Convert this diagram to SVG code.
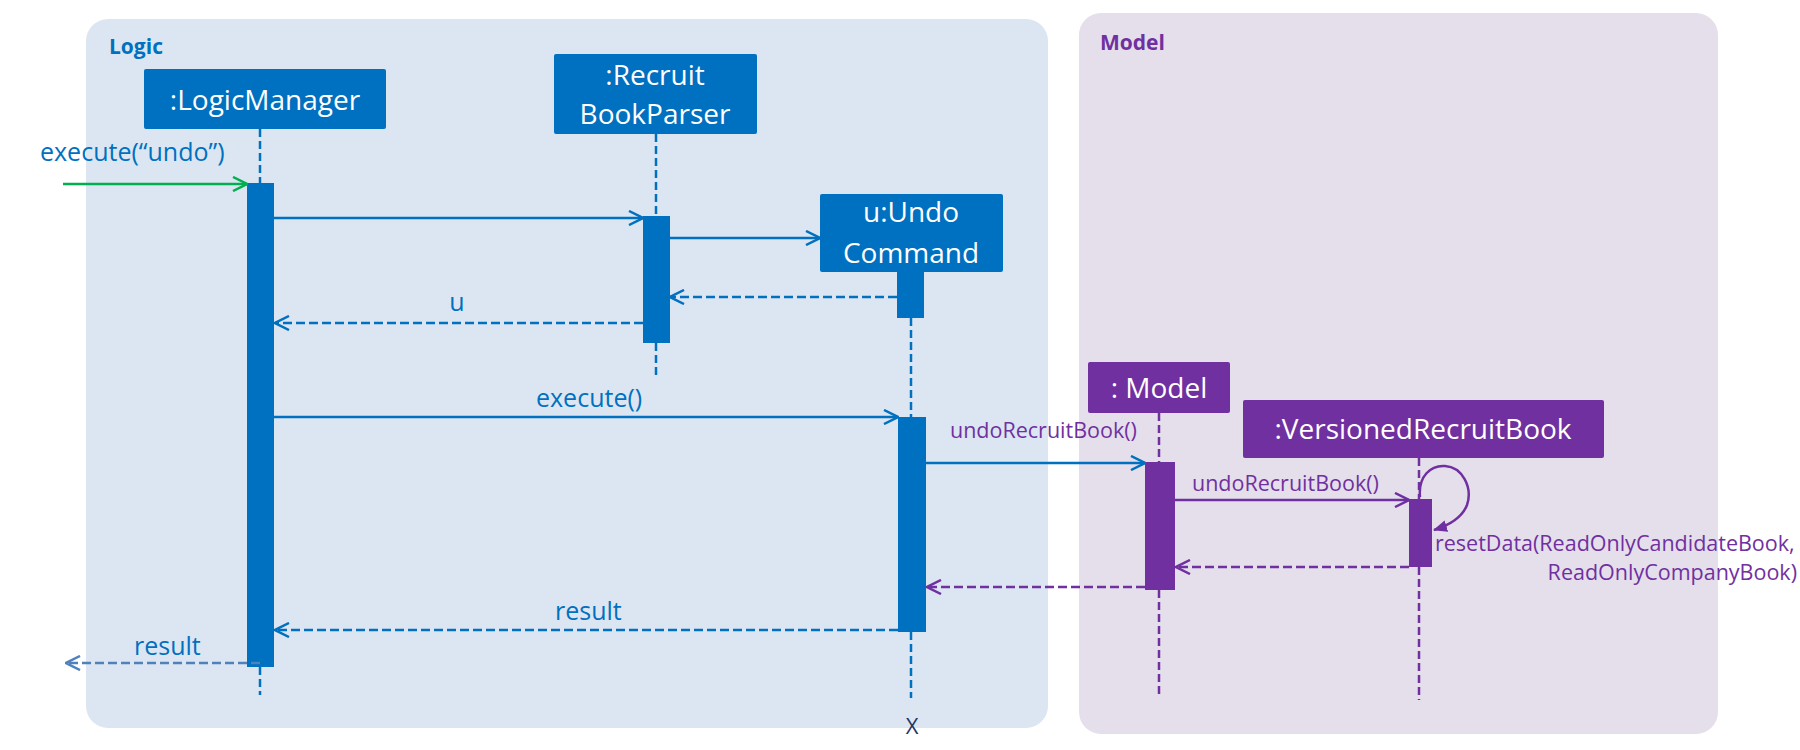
<svg xmlns="http://www.w3.org/2000/svg" width="1800" height="750" viewBox="0 0 1800 750">
<style>
text{font-family:"Open Sans","Noto Sans","DejaVu Sans",sans-serif}
.panel-title{font-weight:bold;font-size:21px}
.node-text{fill:#ffffff;font-size:28px;text-anchor:middle}
.blue-box{fill:#0070c0}
.purple-box{fill:#7030a0}
.lbl-blue{fill:#0070c0;font-size:25px}
.lbl-purple{fill:#7030a0;font-size:21.5px}
.life-blue{stroke:#0070c0;stroke-width:2.5;stroke-dasharray:8 4;fill:none}
.life-purple{stroke:#7030a0;stroke-width:2.5;stroke-dasharray:8 4;fill:none}
.msg-blue{stroke:#0070c0;stroke-width:2.5;fill:none;marker-end:url(#arrBlue)}
.ret-blue{stroke:#0070c0;stroke-width:2.5;fill:none;stroke-dasharray:9 4;marker-end:url(#arrBlue)}
.msg-purple{stroke:#7030a0;stroke-width:2.5;fill:none;marker-end:url(#arrPurple)}
.ret-purple{stroke:#7030a0;stroke-width:2.5;fill:none;stroke-dasharray:9 4;marker-end:url(#arrPurple)}
</style>
<defs>
<marker id="arrBlue" viewBox="0 0 16 16" refX="15" refY="8" markerWidth="16" markerHeight="16" markerUnits="userSpaceOnUse" orient="auto"><path d="M1,1 L15,8 L1,15" fill="none" stroke="#0070c0" stroke-width="2.5"/></marker>
<marker id="arrGreen" viewBox="0 0 16 16" refX="15" refY="8" markerWidth="16" markerHeight="16" markerUnits="userSpaceOnUse" orient="auto"><path d="M1,1 L15,8 L1,15" fill="none" stroke="#00b050" stroke-width="2.5"/></marker>
<marker id="arrPurple" viewBox="0 0 16 16" refX="15" refY="8" markerWidth="16" markerHeight="16" markerUnits="userSpaceOnUse" orient="auto"><path d="M1,1 L15,8 L1,15" fill="none" stroke="#7030a0" stroke-width="2.5"/></marker>
<marker id="arrLight" viewBox="0 0 16 16" refX="15" refY="8" markerWidth="16" markerHeight="16" markerUnits="userSpaceOnUse" orient="auto"><path d="M1,1 L15,8 L1,15" fill="none" stroke="#4f81bd" stroke-width="2.5"/></marker>
<marker id="arrPurpleFill" viewBox="0 0 14 14" refX="13" refY="7" markerWidth="14" markerHeight="14" markerUnits="userSpaceOnUse" orient="auto"><path d="M0,1 L14,7 L0,13 Z" fill="#7030a0"/></marker>
</defs>

<g id="panel-logic">
<rect x="86" y="19" width="962" height="709" rx="22" fill="#dce6f2"/>
<text class="panel-title" x="109" y="54" fill="#0070c0">Logic</text>
</g>
<g id="panel-model">
<rect x="1079" y="13" width="639" height="721" rx="22" fill="#e5dfec"/>
<text class="panel-title" x="1100" y="50" fill="#7030a0">Model</text>
</g>

<g id="lifelines">
<path class="life-blue" d="M260,129 V183 M260,667 V695"/>
<path class="life-blue" d="M656,134 V216 M656,343 V378"/>
<path class="life-blue" d="M911,318 V417 M911,632 V698"/>
<path class="life-purple" d="M1159,413 V462 M1159,590 V695"/>
<path class="life-purple" d="M1419,458 V499 M1419,567 V700"/>
</g>

<g id="node-logicmanager">
<rect class="blue-box" x="144" y="69" width="242" height="60" rx="2"/>
<text class="node-text" x="265" y="110">:LogicManager</text>
<rect class="blue-box" x="247" y="183" width="27" height="484"/>
</g>
<g id="node-parser">
<rect class="blue-box" x="554" y="54" width="203" height="80" rx="2"/>
<text class="node-text" x="655" y="85">:Recruit</text>
<text class="node-text" x="655" y="124">BookParser</text>
<rect class="blue-box" x="643" y="216" width="27" height="127"/>
</g>
<g id="node-undo">
<rect class="blue-box" x="820" y="194" width="183" height="78" rx="2"/>
<text class="node-text" x="911" y="222">u:Undo</text>
<text class="node-text" x="911" y="263">Command</text>
<rect class="blue-box" x="897" y="272" width="27" height="46"/>
<rect class="blue-box" x="898" y="417" width="28" height="215"/>
<text x="912" y="734" font-size="22" fill="#1f3864" text-anchor="middle">X</text>
</g>
<g id="node-model">
<rect class="purple-box" x="1088" y="362" width="142" height="51" rx="2"/>
<text class="node-text" x="1159" y="398">: Model</text>
<rect class="purple-box" x="1145" y="462" width="30" height="128"/>
</g>
<g id="node-versioned">
<rect class="purple-box" x="1243" y="400" width="361" height="58" rx="2"/>
<text class="node-text" x="1423" y="439">:VersionedRecruitBook</text>
<rect class="purple-box" x="1409" y="499" width="23" height="68"/>
</g>

<g id="connectors">
<line x1="63" y1="184" x2="247" y2="184" stroke="#00b050" stroke-width="2.5" marker-end="url(#arrGreen)"/>
<text class="lbl-blue" x="40" y="161">execute(“undo”)</text>
<line class="msg-blue" x1="274" y1="218" x2="643" y2="218"/>
<line class="msg-blue" x1="670" y1="238" x2="820" y2="238"/>
<line class="ret-blue" x1="897" y1="297" x2="670" y2="297"/>
<line class="ret-blue" x1="643" y1="323" x2="275" y2="323"/>
<text class="lbl-blue" x="457" y="311" text-anchor="middle">u</text>
<line class="msg-blue" x1="274" y1="417" x2="898" y2="417"/>
<text class="lbl-blue" x="536" y="407">execute()</text>
<line class="msg-blue" x1="926" y1="463" x2="1145" y2="463"/>
<text class="lbl-purple" x="950" y="438" font-size="21">undoRecruitBook()</text>
<line class="msg-purple" x1="1175" y1="500" x2="1409" y2="500"/>
<text class="lbl-purple" x="1192" y="491" font-size="21">undoRecruitBook()</text>
<path d="M1420,497 C1418,476 1431,465 1445,466 C1462,467 1473,487 1467,505 C1462,518 1450,525 1434,530" fill="none" stroke="#7030a0" stroke-width="2.5" marker-end="url(#arrPurpleFill)"/>
<text class="lbl-purple" x="1435" y="551">resetData(ReadOnlyCandidateBook,</text>
<text class="lbl-purple" x="1797" y="580" text-anchor="end">ReadOnlyCompanyBook)</text>
<line class="ret-purple" x1="1409" y1="567" x2="1176" y2="567"/>
<line class="ret-purple" x1="1145" y1="587" x2="927" y2="587"/>
<line class="ret-blue" x1="898" y1="630" x2="275" y2="630"/>
<text class="lbl-blue" x="555" y="620">result</text>
<line x1="260" y1="663" x2="66" y2="663" stroke="#4f81bd" stroke-width="2.5" stroke-dasharray="9 4" marker-end="url(#arrLight)"/>
<text class="lbl-blue" x="134" y="655">result</text>
</g>
</svg>
